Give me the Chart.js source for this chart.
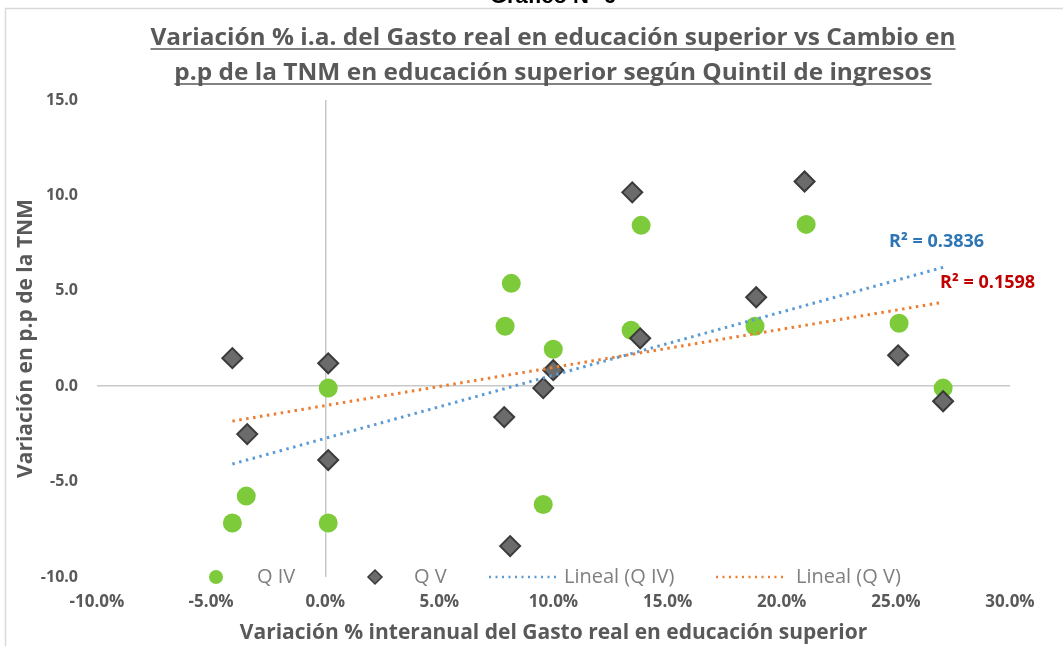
<!DOCTYPE html>
<html>
<head>
<meta charset="utf-8">
<script src="https://cdn.jsdelivr.net/npm/chart.js@4"></script>
<style>
  html, body { margin: 0; padding: 0; background: #fff; }
  #wrap { width: 1063px; height: 646px; position: relative; }
</style>
</head>
<body>
<div id="wrap"><canvas id="myChart"></canvas></div>
<script>
  // data (x = % variación interanual, y = p.p.)
  const q4X = [-4.07, -3.46, 0.13, 0.13, 7.88, 8.15, 9.55, 9.99, 13.40, 13.84, 18.83, 21.07, 25.14, 27.07];
  const q4Y = [-7.17, -5.76, -0.10, -7.17, 3.14, 5.39, -6.20, 1.94, 2.93, 8.43, 3.14, 8.48, 3.30, -0.10];
  const q5X = [-4.07, -3.42, 0.13, 0.13, 7.84, 8.10, 9.55, 9.99, 13.45, 13.80, 18.88, 21.00, 25.10, 27.07];
  const q5Y = [1.47, -2.51, 1.20, -3.87, -1.62, -8.38, -0.10, 0.84, 10.16, 2.51, 4.66, 10.73, 1.62, -0.79];

  // trend line end points (Excel linear trendlines)
  const trendQ4X = [-4.07, 27.07];
  const trendQ4Y = [-4.08, 6.23];
  const trendQ5X = [-4.07, 27.07];
  const trendQ5Y = [-1.83, 4.40];
  const r2Labels = ['R² = 0.3836', 'R² = 0.1598'];

  const seriesNames = ['Q IV', 'Q V', 'Lineal (Q IV)', 'Lineal (Q V)'];
  const mainTitle = ['Variación % i.a. del Gasto real en educación superior vs Cambio en',
                     'p.p de la TNM en educación superior según Quintil de ingresos'];
  const headerText = 'Gráfico N° 6';
  const xTitle = 'Variación % interanual del Gasto real en educación superior';
  const yTitle = 'Variación en p.p de la TNM';

  const GREEN = '#7DCB3B';
  const DIAMOND = '#6b6b6b';
  const BLUE = '#5B9BD5';
  const ORANGE = '#ED7D31';
  const TXT = '#595959';

  function pts(xs, ys) {
    return xs.map(function(x, i){ return { x: x, y: ys[i] }; });
  }

  // title, frame, legend and R² labels
  const decorations = {
    id: 'decorations',
    beforeDraw(chart) {
      const ctx = chart.ctx;
      ctx.save();
      ctx.strokeStyle = '#d9d9d9';
      ctx.lineWidth = 1.5;
      ctx.strokeRect(5.5, 8.5, 1080, 700);
      ctx.restore();
    },
    afterDraw(chart) {
      const ctx = chart.ctx;
      const area = chart.chartArea;
      ctx.save();

      // header cut off at the top
      ctx.fillStyle = '#000';
      ctx.font = 'bold 22px "Liberation Sans", Arial, sans-serif';
      ctx.textAlign = 'center';
      ctx.textBaseline = 'alphabetic';
      ctx.fillText(headerText, 553, 3);

      // underlined title (condensed look)
      ctx.fillStyle = TXT;
      ctx.strokeStyle = TXT;
      ctx.font = 'bold 23px "Open Sans", sans-serif';
      const w0 = ctx.measureText(mainTitle[0]).width;
      const sx = 805 / w0;
      const ys = [45, 80];
      mainTitle.forEach(function(t, i){
        const w = ctx.measureText(t).width * sx;
        ctx.save();
        ctx.translate(553, ys[i]);
        ctx.scale(sx, 1);
        ctx.fillText(t, 0, 0);
        ctx.restore();
        ctx.lineWidth = 1.5;
        ctx.beginPath();
        ctx.moveTo(553 - w / 2, ys[i] + 4);
        ctx.lineTo(553 + w / 2, ys[i] + 4);
        ctx.stroke();
      });

      // R² labels next to the trend lines
      const xs = chart.scales.x, yS = chart.scales.y;
      ctx.font = 'bold 18px "Open Sans", sans-serif';
      ctx.textAlign = 'left';
      ctx.textBaseline = 'middle';
      ctx.fillStyle = '#2E75B6';
      ctx.fillText(r2Labels[0], xs.getPixelForValue(trendQ4X[1]) - 54, yS.getPixelForValue(trendQ4Y[1]) - 25);
      ctx.fillStyle = '#C00000';
      ctx.fillText(r2Labels[1], xs.getPixelForValue(trendQ5X[1]) - 3, yS.getPixelForValue(trendQ5Y[1]) - 19);

      // legend inside the bottom of the plot
      const ly = area.bottom;
      ctx.font = '20px "Open Sans", sans-serif';
      ctx.fillStyle = '#7f7f7f';
      ctx.textBaseline = 'middle';

      ctx.beginPath();
      ctx.fillStyle = GREEN;
      ctx.arc(216, ly, 7, 0, Math.PI * 2);
      ctx.fill();
      ctx.fillStyle = '#7f7f7f';
      ctx.fillText(seriesNames[0], 257, ly);

      ctx.beginPath();
      ctx.moveTo(375, ly - 7); ctx.lineTo(382, ly); ctx.lineTo(375, ly + 7); ctx.lineTo(368, ly);
      ctx.closePath();
      ctx.fillStyle = DIAMOND;
      ctx.fill();
      ctx.strokeStyle = '#3a3a3a';
      ctx.lineWidth = 1.5;
      ctx.stroke();
      ctx.fillStyle = '#7f7f7f';
      ctx.fillText(seriesNames[1], 414, ly);

      ctx.lineWidth = 2.5;
      ctx.setLineDash([2, 4.5]);
      ctx.strokeStyle = BLUE;
      ctx.beginPath(); ctx.moveTo(489, ly); ctx.lineTo(556, ly); ctx.stroke();
      ctx.fillText(seriesNames[2], 564, ly);
      ctx.strokeStyle = ORANGE;
      ctx.beginPath(); ctx.moveTo(716, ly); ctx.lineTo(786, ly); ctx.stroke();
      ctx.setLineDash([]);
      ctx.fillText(seriesNames[3], 796, ly);

      ctx.restore();
    }
  };

  const data = {
    datasets: [
      {
        label: seriesNames[2],
        type: 'line',
        data: pts(trendQ4X, trendQ4Y),
        borderColor: BLUE,
        borderWidth: 3,
        borderDash: [2.5, 4.5],
        pointRadius: 0,
        fill: false,
        order: 1
      },
      {
        label: seriesNames[3],
        type: 'line',
        data: pts(trendQ5X, trendQ5Y),
        borderColor: ORANGE,
        borderWidth: 3,
        borderDash: [2.5, 4.5],
        pointRadius: 0,
        fill: false,
        order: 2
      },
      {
        label: seriesNames[1],
        data: pts(q5X, q5Y),
        pointStyle: 'rectRot',
        pointRadius: 10,
        backgroundColor: DIAMOND,
        borderColor: '#3a3a3a',
        borderWidth: 2,
        order: 3
      },
      {
        label: seriesNames[0],
        data: pts(q4X, q4Y),
        pointStyle: 'circle',
        pointRadius: 9.5,
        backgroundColor: GREEN,
        borderColor: GREEN,
        borderWidth: 0,
        order: 4
      }
    ]
  };

  const titleFont = { family: '"Open Sans", sans-serif', size: 21, weight: 'bold' };

  const config = {
    type: 'scatter',
    data: data,
    options: {
      responsive: true,
      maintainAspectRatio: false,
      animation: false,
      layout: { padding: { top: 100, right: 53, left: 0, bottom: 0 } },
      plugins: {
        legend: { display: false },
        tooltip: { enabled: false }
      },
      scales: {
        x: {
          type: 'linear',
          min: -10,
          max: 30,
          border: { display: false },
          grid: {
            drawTicks: false,
            color: function(c){ return c.tick && c.tick.value === 0 ? '#c8c8c8' : 'rgba(0,0,0,0)'; },
            lineWidth: 1.5
          },
          ticks: {
            stepSize: 5,
            padding: 15,
            color: TXT,
            font: { family: '"Open Sans", sans-serif', size: 17, weight: 'bold' },
            maxRotation: 0,
            callback: function(v){ return v.toFixed(1) + '%'; }
          },
          title: { display: true, text: xTitle, color: TXT, font: titleFont, padding: { top: 0, bottom: 0 } },
          afterFit: function(s){ s.height = 69; }
        },
        y: {
          type: 'linear',
          min: -10,
          max: 15,
          border: { display: false },
          grid: {
            drawTicks: false,
            color: function(c){ return c.tick && c.tick.value === 0 ? '#c8c8c8' : 'rgba(0,0,0,0)'; },
            lineWidth: 1.5
          },
          ticks: {
            stepSize: 5,
            padding: 19,
            color: TXT,
            font: { family: '"Open Sans", sans-serif', size: 16, weight: 'bold' },
            callback: function(v){ return v.toFixed(1); }
          },
          title: { display: true, text: yTitle, color: TXT, font: titleFont, padding: { top: 13, bottom: 0 } },
          afterFit: function(s){ s.width = 97; }
        }
      }
    },
    plugins: [decorations]
  };

  const myChart = new Chart(document.getElementById('myChart'), config);
</script>
</body>
</html>
